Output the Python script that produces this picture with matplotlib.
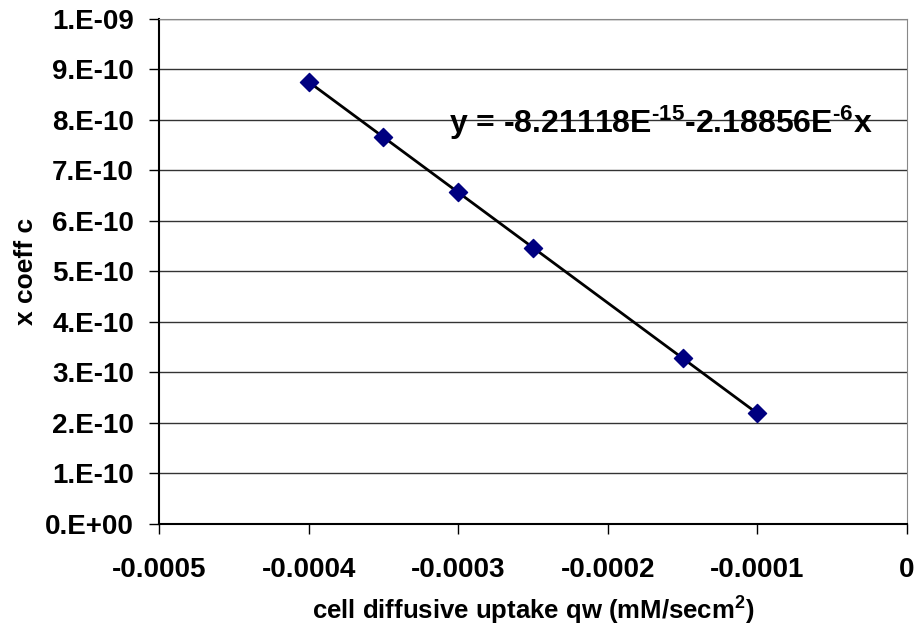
import matplotlib.pyplot as plt
import numpy as np

plt.rcParams['font.family'] = ['Liberation Sans', 'DejaVu Sans']
plt.rcParams['font.weight'] = 'bold'
plt.rcParams['mathtext.fontset'] = 'custom'
plt.rcParams['mathtext.default'] = 'bf'
plt.rcParams['mathtext.bf'] = 'Liberation Sans:bold'
plt.rcParams['mathtext.rm'] = 'Liberation Sans:bold'

# data
qw = [-0.0004, -0.00035, -0.0003, -0.00025, -0.00015, -0.0001]
coeff_c = [8.75e-10, 7.66e-10, 6.57e-10, 5.47e-10, 3.28e-10, 2.19e-10]
intercept, slope = -8.21118e-15, -2.18856e-6

x_ticks = [-0.0005, -0.0004, -0.0003, -0.0002, -0.0001, 0]
x_labels = ['-0.0005', '-0.0004', '-0.0003', '-0.0002', '-0.0001', '0']
y_ticks = np.arange(0, 11) * 1e-10
y_labels = ['0.E+00', '1.E-10', '2.E-10', '3.E-10', '4.E-10', '5.E-10',
            '6.E-10', '7.E-10', '8.E-10', '9.E-10', '1.E-09']

fig = plt.figure(figsize=(9.16, 6.31), dpi=100)
ax = fig.add_axes([0.1736, 0.1696, 0.8166, 0.8004])

# trend line over the data range
xl = np.array([min(qw), max(qw)])
ax.plot(xl, intercept + slope * xl, color='black', lw=2, zorder=3)
ax.scatter(qw, coeff_c, marker='D', s=85, color='#000080', zorder=4)

ax.set_xlim(-0.0005, 0)
ax.set_ylim(0, 1e-9)
ax.set_xticks(x_ticks)
ax.set_xticklabels(x_labels)
ax.set_yticks(y_ticks)
ax.set_yticklabels(y_labels)
ax.tick_params(axis='both', labelsize=20, length=7, width=1, direction='out')
ax.tick_params(axis='y', pad=11)
ax.tick_params(axis='x', pad=17)

ax.grid(axis='y', color='#333333', lw=1)
ax.set_axisbelow(True)
ax.spines['left'].set_color('black')
ax.spines['bottom'].set_color('black')
ax.spines['top'].set_color('#888888')
ax.spines['right'].set_color('#888888')
ax.spines['left'].set_linewidth(1.5)
ax.spines['bottom'].set_linewidth(1.5)

ax.set_xlabel('cell diffusive uptake qw (mM/secm$^{2}$)', fontsize=18.5, fontweight='bold', labelpad=8)
ax.set_ylabel('x coeff c', fontsize=19, fontweight='bold', labelpad=5)

ax.text(-0.000306, 7.74e-10, r'y = -8.21118E$^{\text{-}15}$-2.18856E$^{\text{-}6}$x',
        fontsize=23, fontweight='bold', va='baseline', ha='left')

fig.savefig('out.png', dpi=100)
